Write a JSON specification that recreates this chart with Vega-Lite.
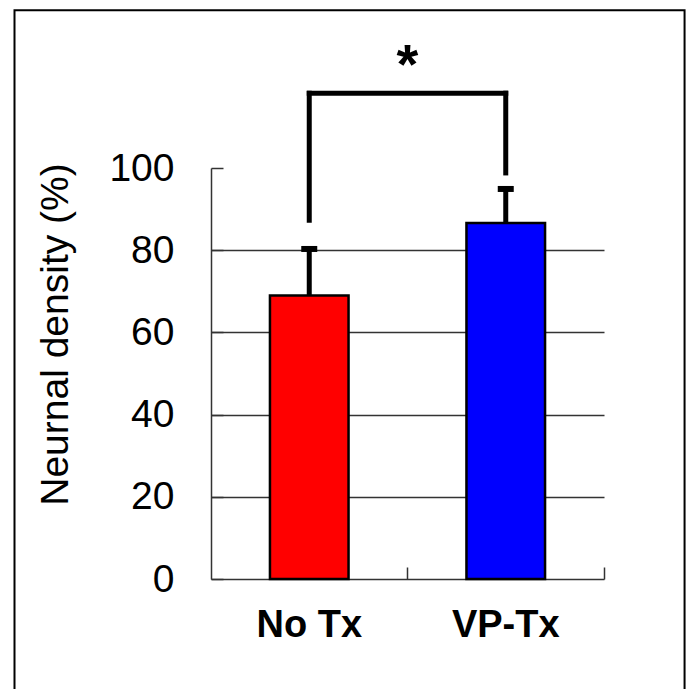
{
  "$schema": "https://vega.github.io/schema/vega-lite/v6.json",
  "width": 393,
  "height": 411,
  "autosize": {"type": "none"},
  "padding": {"left": 211, "top": 168, "right": 88, "bottom": 110},
  "background": "white",
  "config": {"view": {"stroke": null}, "font": "Liberation Sans"},
  "datasets": {
    "bars": [
      {"group": "No Tx", "mean": 69.0, "upper": 80.3},
      {"group": "VP-Tx", "mean": 86.6, "upper": 94.9}
    ],
    "legs": [
      {"group": "No Tx", "bottom": 87.3, "top": 118.2},
      {"group": "VP-Tx", "bottom": 98.8, "top": 118.2}
    ],
    "bracket": [{"from": "No Tx", "to": "VP-Tx", "level": 118.2}],
    "star": [{"group": "VP-Tx", "label": "*", "level": 120.6}],
    "frame": [{"name": "frame"}]
  },
  "resolve": {"scale": {"x": "independent"}},
  "layer": [
    {
      "data": {"name": "frame"},
      "mark": {"type": "rect", "fillOpacity": 0, "fill": "white", "stroke": "black", "strokeWidth": 2},
      "encoding": {
        "x": {"datum": -1.0, "type": "quantitative", "scale": {"domain": [0, 2]}, "axis": null},
        "x2": {"datum": 2.41},
        "y": {"datum": 138.4, "type": "quantitative", "scale": {"domain": [0, 100], "nice": false}},
        "y2": {"datum": -30}
      }
    },
    {
      "resolve": {"axis": {"x": "independent"}},
      "layer": [
        {
          "data": {"name": "bars"},
          "mark": {"type": "rule", "color": "black", "strokeWidth": 5},
          "encoding": {
            "x": {
              "field": "group", "type": "nominal",
              "scale": {"domain": ["No Tx", "VP-Tx"], "paddingInner": 0, "paddingOuter": 0},
              "axis": {"orient": "bottom", "labels": false, "domain": false, "ticks": true, "tickSize": -12, "tickWidth": 1.5, "tickColor": "#333333", "bandPosition": 1, "title": null, "grid": false}
            },
            "y": {"field": "mean", "type": "quantitative", "scale": {"domain": [0, 100], "nice": false}},
            "y2": {"field": "upper"}
          }
        },
        {
          "data": {"name": "bars"},
          "mark": {"type": "bar", "width": {"band": 0.4}, "stroke": "black", "strokeWidth": 2.5},
          "encoding": {
            "x": {
              "field": "group", "type": "nominal",
              "scale": {"domain": ["No Tx", "VP-Tx"], "paddingInner": 0, "paddingOuter": 0},
              "axis": {"orient": "bottom", "ticks": false, "domain": true, "domainColor": "#333333", "domainWidth": 1.5, "labelAngle": 0, "labelFontSize": 38, "labelFontWeight": "bold", "labelColor": "black", "labelPadding": 27, "title": null, "grid": false}
            },
            "y": {
              "field": "mean", "type": "quantitative",
              "scale": {"domain": [0, 100], "nice": false},
              "axis": {
                "values": [0, 20, 40, 60, 80, 100],
                "grid": true,
                "gridColor": "#333333",
                "gridWidth": 1.5,
                "gridOpacity": {"condition": {"test": "datum.value === 100 || datum.value === 0", "value": 0}, "value": 1},
                "domain": true, "domainColor": "#333333", "domainWidth": 1.5,
                "ticks": true, "tickSize": -12, "tickWidth": 1.5, "tickColor": "#333333",
                "labelFontSize": 39, "labelColor": "black", "labelPadding": 49,
                "title": "Neurnal density (%)",
                "titleFontSize": 39, "titleFontWeight": "normal", "titleColor": "black",
                "titleX": -156, "titleY": 166, "titleBaseline": "middle", "titleAngle": -90
              }
            },
            "color": {"field": "group", "type": "nominal", "scale": {"domain": ["No Tx", "VP-Tx"], "range": ["#FF0000", "#0000FF"]}, "legend": null}
          }
        },
        {
          "data": {"name": "bars"},
          "mark": {"type": "tick", "color": "black", "size": 16, "thickness": 6, "opacity": 1},
          "encoding": {
            "x": {"field": "group", "type": "nominal", "axis": null},
            "y": {"field": "upper", "type": "quantitative"}
          }
        },
        {
          "data": {"name": "legs"},
          "mark": {"type": "rule", "color": "black", "strokeWidth": 5, "strokeCap": "square"},
          "encoding": {
            "x": {"field": "group", "type": "nominal", "axis": null},
            "y": {"field": "bottom", "type": "quantitative"},
            "y2": {"field": "top"}
          }
        },
        {
          "data": {"name": "bracket"},
          "mark": {"type": "rule", "color": "black", "strokeWidth": 5, "strokeCap": "square"},
          "encoding": {
            "x": {"field": "from", "type": "nominal", "axis": null},
            "x2": {"field": "to"},
            "y": {"field": "level", "type": "quantitative"}
          }
        },
        {
          "data": {"name": "star"},
          "mark": {"type": "text", "fontSize": 56, "fontWeight": "bold", "color": "black", "baseline": "alphabetic", "align": "center"},
          "encoding": {
            "x": {"field": "group", "type": "nominal", "bandPosition": 0, "axis": null},
            "y": {"field": "level", "type": "quantitative"},
            "text": {"field": "label"}
          }
        }
      ]
    }
  ]
}
